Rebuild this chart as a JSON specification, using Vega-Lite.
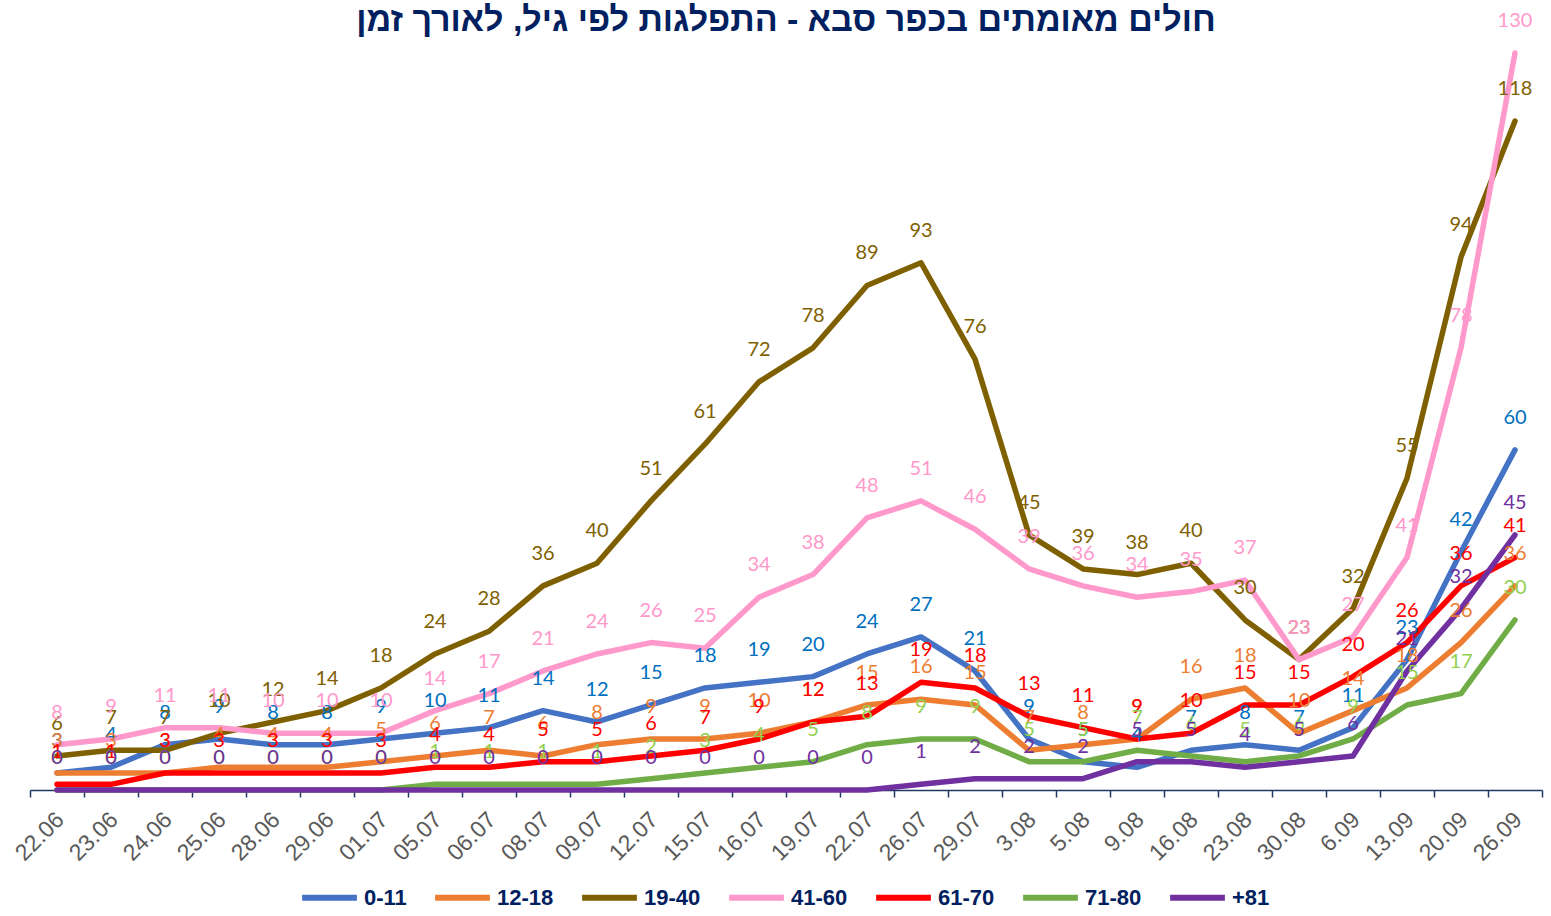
{
  "$schema": "https://vega.github.io/schema/vega-lite/v6.json",
  "autosize": {"type": "none"},
  "padding": {"left": 30, "top": 53, "right": 9, "bottom": 126},
  "width": 1512,
  "height": 737,
  "background": "white",
  "config": {"view": {"stroke": null}},
  "title": {
    "text": "חולים מאומתים בכפר סבא - התפלגות לפי גיל, לאורך זמן",
    "font": "Liberation Sans",
    "fontSize": 34,
    "fontWeight": "bold",
    "color": "#002060",
    "anchor": "middle",
    "offset": -27
  },
  "datasets": {
    "cases": [
      {"d":"22.06","g":"0-11","v":3},{"d":"23.06","g":"0-11","v":4},{"d":"24.06","g":"0-11","v":8},{"d":"25.06","g":"0-11","v":9},{"d":"28.06","g":"0-11","v":8},{"d":"29.06","g":"0-11","v":8},{"d":"01.07","g":"0-11","v":9},{"d":"05.07","g":"0-11","v":10},{"d":"06.07","g":"0-11","v":11},{"d":"08.07","g":"0-11","v":14},{"d":"09.07","g":"0-11","v":12},{"d":"12.07","g":"0-11","v":15},{"d":"15.07","g":"0-11","v":18},{"d":"16.07","g":"0-11","v":19},{"d":"19.07","g":"0-11","v":20},{"d":"22.07","g":"0-11","v":24},{"d":"26.07","g":"0-11","v":27},{"d":"29.07","g":"0-11","v":21},{"d":"3.08","g":"0-11","v":9},{"d":"5.08","g":"0-11","v":5},{"d":"9.08","g":"0-11","v":4},{"d":"16.08","g":"0-11","v":7},{"d":"23.08","g":"0-11","v":8},{"d":"30.08","g":"0-11","v":7},{"d":"6.09","g":"0-11","v":11},{"d":"13.09","g":"0-11","v":23},{"d":"20.09","g":"0-11","v":42},{"d":"26.09","g":"0-11","v":60},
      {"d":"22.06","g":"12-18","v":3},{"d":"23.06","g":"12-18","v":3},{"d":"24.06","g":"12-18","v":3},{"d":"25.06","g":"12-18","v":4},{"d":"28.06","g":"12-18","v":4},{"d":"29.06","g":"12-18","v":4},{"d":"01.07","g":"12-18","v":5},{"d":"05.07","g":"12-18","v":6},{"d":"06.07","g":"12-18","v":7},{"d":"08.07","g":"12-18","v":6},{"d":"09.07","g":"12-18","v":8},{"d":"12.07","g":"12-18","v":9},{"d":"15.07","g":"12-18","v":9},{"d":"16.07","g":"12-18","v":10},{"d":"19.07","g":"12-18","v":12},{"d":"22.07","g":"12-18","v":15},{"d":"26.07","g":"12-18","v":16},{"d":"29.07","g":"12-18","v":15},{"d":"3.08","g":"12-18","v":7},{"d":"5.08","g":"12-18","v":8},{"d":"9.08","g":"12-18","v":9},{"d":"16.08","g":"12-18","v":16},{"d":"23.08","g":"12-18","v":18},{"d":"30.08","g":"12-18","v":10},{"d":"6.09","g":"12-18","v":14},{"d":"13.09","g":"12-18","v":18},{"d":"20.09","g":"12-18","v":26},{"d":"26.09","g":"12-18","v":36},
      {"d":"22.06","g":"19-40","v":6},{"d":"23.06","g":"19-40","v":7},{"d":"24.06","g":"19-40","v":7},{"d":"25.06","g":"19-40","v":10},{"d":"28.06","g":"19-40","v":12},{"d":"29.06","g":"19-40","v":14},{"d":"01.07","g":"19-40","v":18},{"d":"05.07","g":"19-40","v":24},{"d":"06.07","g":"19-40","v":28},{"d":"08.07","g":"19-40","v":36},{"d":"09.07","g":"19-40","v":40},{"d":"12.07","g":"19-40","v":51},{"d":"15.07","g":"19-40","v":61},{"d":"16.07","g":"19-40","v":72},{"d":"19.07","g":"19-40","v":78},{"d":"22.07","g":"19-40","v":89},{"d":"26.07","g":"19-40","v":93},{"d":"29.07","g":"19-40","v":76},{"d":"3.08","g":"19-40","v":45},{"d":"5.08","g":"19-40","v":39},{"d":"9.08","g":"19-40","v":38},{"d":"16.08","g":"19-40","v":40},{"d":"23.08","g":"19-40","v":30},{"d":"30.08","g":"19-40","v":23},{"d":"6.09","g":"19-40","v":32},{"d":"13.09","g":"19-40","v":55},{"d":"20.09","g":"19-40","v":94},{"d":"26.09","g":"19-40","v":118},
      {"d":"22.06","g":"41-60","v":8},{"d":"23.06","g":"41-60","v":9},{"d":"24.06","g":"41-60","v":11},{"d":"25.06","g":"41-60","v":11},{"d":"28.06","g":"41-60","v":10},{"d":"29.06","g":"41-60","v":10},{"d":"01.07","g":"41-60","v":10},{"d":"05.07","g":"41-60","v":14},{"d":"06.07","g":"41-60","v":17},{"d":"08.07","g":"41-60","v":21},{"d":"09.07","g":"41-60","v":24},{"d":"12.07","g":"41-60","v":26},{"d":"15.07","g":"41-60","v":25},{"d":"16.07","g":"41-60","v":34},{"d":"19.07","g":"41-60","v":38},{"d":"22.07","g":"41-60","v":48},{"d":"26.07","g":"41-60","v":51},{"d":"29.07","g":"41-60","v":46},{"d":"3.08","g":"41-60","v":39},{"d":"5.08","g":"41-60","v":36},{"d":"9.08","g":"41-60","v":34},{"d":"16.08","g":"41-60","v":35},{"d":"23.08","g":"41-60","v":37},{"d":"30.08","g":"41-60","v":23},{"d":"6.09","g":"41-60","v":27},{"d":"13.09","g":"41-60","v":41},{"d":"20.09","g":"41-60","v":78},{"d":"26.09","g":"41-60","v":130},
      {"d":"22.06","g":"61-70","v":1},{"d":"23.06","g":"61-70","v":1},{"d":"24.06","g":"61-70","v":3},{"d":"25.06","g":"61-70","v":3},{"d":"28.06","g":"61-70","v":3},{"d":"29.06","g":"61-70","v":3},{"d":"01.07","g":"61-70","v":3},{"d":"05.07","g":"61-70","v":4},{"d":"06.07","g":"61-70","v":4},{"d":"08.07","g":"61-70","v":5},{"d":"09.07","g":"61-70","v":5},{"d":"12.07","g":"61-70","v":6},{"d":"15.07","g":"61-70","v":7},{"d":"16.07","g":"61-70","v":9},{"d":"19.07","g":"61-70","v":12},{"d":"22.07","g":"61-70","v":13},{"d":"26.07","g":"61-70","v":19},{"d":"29.07","g":"61-70","v":18},{"d":"3.08","g":"61-70","v":13},{"d":"5.08","g":"61-70","v":11},{"d":"9.08","g":"61-70","v":9},{"d":"16.08","g":"61-70","v":10},{"d":"23.08","g":"61-70","v":15},{"d":"30.08","g":"61-70","v":15},{"d":"6.09","g":"61-70","v":20},{"d":"13.09","g":"61-70","v":26},{"d":"20.09","g":"61-70","v":36},{"d":"26.09","g":"61-70","v":41},
      {"d":"22.06","g":"71-80","v":0},{"d":"23.06","g":"71-80","v":0},{"d":"24.06","g":"71-80","v":0},{"d":"25.06","g":"71-80","v":0},{"d":"28.06","g":"71-80","v":0},{"d":"29.06","g":"71-80","v":0},{"d":"01.07","g":"71-80","v":0},{"d":"05.07","g":"71-80","v":1},{"d":"06.07","g":"71-80","v":1},{"d":"08.07","g":"71-80","v":1},{"d":"09.07","g":"71-80","v":1},{"d":"12.07","g":"71-80","v":2},{"d":"15.07","g":"71-80","v":3},{"d":"16.07","g":"71-80","v":4},{"d":"19.07","g":"71-80","v":5},{"d":"22.07","g":"71-80","v":8},{"d":"26.07","g":"71-80","v":9},{"d":"29.07","g":"71-80","v":9},{"d":"3.08","g":"71-80","v":5},{"d":"5.08","g":"71-80","v":5},{"d":"9.08","g":"71-80","v":7},{"d":"16.08","g":"71-80","v":6},{"d":"23.08","g":"71-80","v":5},{"d":"30.08","g":"71-80","v":6},{"d":"6.09","g":"71-80","v":9},{"d":"13.09","g":"71-80","v":15},{"d":"20.09","g":"71-80","v":17},{"d":"26.09","g":"71-80","v":30},
      {"d":"22.06","g":"+81","v":0},{"d":"23.06","g":"+81","v":0},{"d":"24.06","g":"+81","v":0},{"d":"25.06","g":"+81","v":0},{"d":"28.06","g":"+81","v":0},{"d":"29.06","g":"+81","v":0},{"d":"01.07","g":"+81","v":0},{"d":"05.07","g":"+81","v":0},{"d":"06.07","g":"+81","v":0},{"d":"08.07","g":"+81","v":0},{"d":"09.07","g":"+81","v":0},{"d":"12.07","g":"+81","v":0},{"d":"15.07","g":"+81","v":0},{"d":"16.07","g":"+81","v":0},{"d":"19.07","g":"+81","v":0},{"d":"22.07","g":"+81","v":0},{"d":"26.07","g":"+81","v":1},{"d":"29.07","g":"+81","v":2},{"d":"3.08","g":"+81","v":2},{"d":"5.08","g":"+81","v":2},{"d":"9.08","g":"+81","v":5},{"d":"16.08","g":"+81","v":5},{"d":"23.08","g":"+81","v":4},{"d":"30.08","g":"+81","v":5},{"d":"6.09","g":"+81","v":6},{"d":"13.09","g":"+81","v":21},{"d":"20.09","g":"+81","v":32},{"d":"26.09","g":"+81","v":45}
    ]
  },
  "data": {"name": "cases"},
  "encoding": {
    "x": {
      "field": "d", "type": "nominal", "sort": null,
      "scale": {"paddingInner": 0, "paddingOuter": 0},
      "axis": {
        "title": null,
        "labelAngle": -45,
        "labelFont": "Liberation Sans",
        "labelFontSize": 23,
        "labelColor": "#595959",
        "labelPadding": 11,
        "labelOffset": -5,
        "domainColor": "#1F3864",
        "domainWidth": 1.5,
        "tickColor": "#1F3864",
        "tickWidth": 1.5,
        "tickSize": 7,
        "tickBand": "extent",
        "grid": false
      }
    },
    "y": {
      "field": "v", "type": "quantitative",
      "scale": {"domain": [0, 130], "nice": false, "zero": true},
      "axis": null
    }
  },
  "layer": [
    {
      "mark": {"type": "line", "strokeWidth": 5.5, "strokeCap": "round", "strokeJoin": "round", "clip": false},
      "encoding": {
        "color": {
          "field": "g", "type": "nominal",
          "scale": {
            "domain": ["0-11", "12-18", "19-40", "41-60", "61-70", "71-80", "+81"],
            "range": ["#4472C4", "#ED7D31", "#7F6000", "#FF99CC", "#FF0000", "#70AD47", "#7030A0"]
          },
          "legend": {
            "title": null,
            "orient": "none",
            "direction": "horizontal",
            "legendX": 269,
            "legendY": 814,
            "symbolType": "stroke",
            "symbolStrokeWidth": 6,
            "symbolSize": 3000,
            "labelFont": "Liberation Sans",
            "labelFontSize": 22,
            "labelFontWeight": "bold",
            "labelColor": "#002060",
            "columnPadding": 16,
            "labelOffset": 4,
            "padding": 0
          }
        }
      }
    },
    {
      "mark": {"type": "text", "dy": -32, "font": "Lato", "fontSize": 20, "baseline": "middle", "clip": false},
      "encoding": {
        "text": {"field": "v", "type": "quantitative"},
        "color": {
          "field": "g", "type": "nominal",
          "scale": {
            "domain": ["0-11", "12-18", "19-40", "41-60", "61-70", "71-80", "+81"],
            "range": ["#0070C0", "#ED7D31", "#7F6000", "#FF99CC", "#FF0000", "#92D050", "#7030A0"]
          },
          "legend": null
        }
      }
    }
  ],
  "resolve": {"scale": {"color": "independent"}}
}
